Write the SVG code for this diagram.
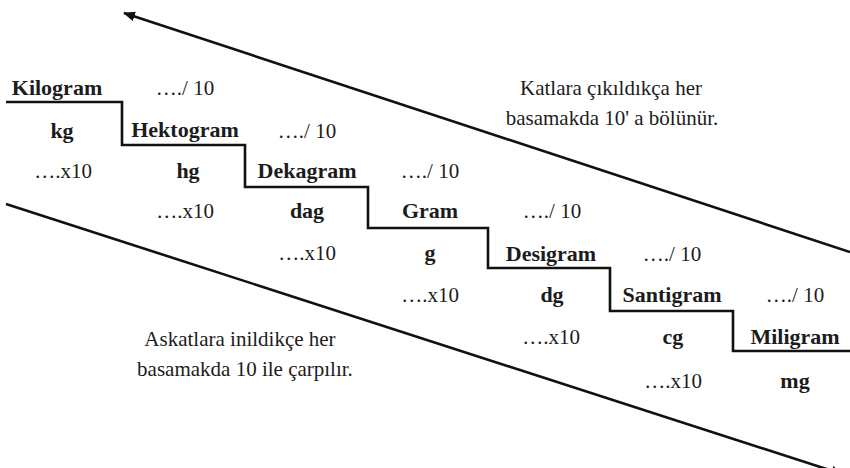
<svg xmlns="http://www.w3.org/2000/svg" width="850" height="468" viewBox="0 0 850 468" font-family="'Liberation Serif', 'Times New Roman', Times, serif">
<style>
text{fill:#1c1c1c;text-anchor:middle}
.b{font-weight:bold;font-size:22px}
.r{font-size:21px}
.ln{fill:none;stroke:#111;stroke-width:2.6}
</style>
<defs>
<marker id="ah" viewBox="0 0 12 10" refX="11" refY="5" markerWidth="12" markerHeight="10" markerUnits="userSpaceOnUse" orient="auto">
<path d="M0,0 L12,5 L0,10 Z" fill="#111"/>
</marker>
</defs>
<rect width="850" height="468" fill="#fff"/>
<g id="connectors">
<path class="ln" d="M6,102 H122 V145 H245 V187 H368 V228 H488 V268 H610 V311 H733 V351 H850"/>
<line class="ln" x1="850" y1="252" x2="124" y2="13" marker-end="url(#ah)"/>
<line class="ln" x1="6" y1="204" x2="842" y2="474" marker-end="url(#ah)"/>
</g>
<g font-family="Liberation Serif">
<g id="kilogram"><text class="b" x="57" y="95">Kilogram</text><text class="b" x="62" y="138">kg</text></g>
<g id="hektogram"><text class="b" x="185" y="137">Hektogram</text><text class="b" x="188" y="178">hg</text></g>
<g id="dekagram"><text class="b" x="307" y="178">Dekagram</text><text class="b" x="307" y="218">dag</text></g>
<g id="gram"><text class="b" x="430" y="218">Gram</text><text class="b" x="430" y="260">g</text></g>
<g id="desigram"><text class="b" x="551" y="261">Desigram</text><text class="b" x="552" y="302">dg</text></g>
<g id="santigram"><text class="b" x="672" y="302">Santigram</text><text class="b" x="673" y="344">cg</text></g>
<g id="miligram"><text class="b" x="795" y="344">Miligram</text><text class="b" x="795" y="388">mg</text></g>
<g id="divide-labels">
<text class="r" x="185" y="95">…./ 10</text>
<text class="r" x="307" y="138">…./ 10</text>
<text class="r" x="430" y="178">…./ 10</text>
<text class="r" x="552" y="218">…./ 10</text>
<text class="r" x="672" y="261">…./ 10</text>
<text class="r" x="795" y="302">…./ 10</text>
</g>
<g id="multiply-labels">
<text class="r" x="63" y="178">….x10</text>
<text class="r" x="185" y="218">….x10</text>
<text class="r" x="307" y="260">….x10</text>
<text class="r" x="430" y="302">….x10</text>
<text class="r" x="551" y="344">….x10</text>
<text class="r" x="673" y="388">….x10</text>
</g>
<g id="note-up">
<text class="r" x="611" y="95">Katlara çıkıldıkça her</text>
<text class="r" x="612" y="125">basamakda 10' a bölünür.</text>
</g>
<g id="note-down">
<text class="r" x="240" y="346">Askatlara inildikçe her</text>
<text class="r" x="245" y="376">basamakda 10 ile çarpılır.</text>
</g>
</g>
</svg>
